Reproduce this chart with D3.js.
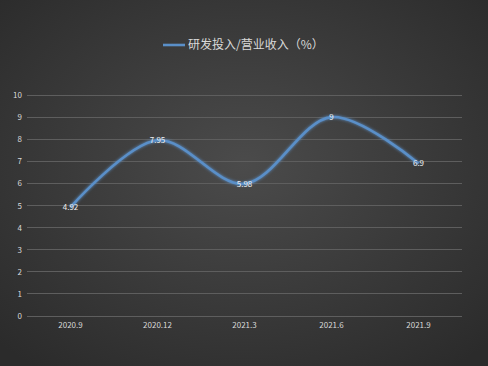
<!DOCTYPE html>
<html><head><meta charset="utf-8">
<script src="https://cdn.jsdelivr.net/npm/d3@7"></script>
<style>body{margin:0;background:#333}svg{display:block}</style>
</head><body>
<svg id="c" width="488" height="366"></svg>
<script>
const categories = ["2020.9","2020.12","2021.3","2021.6","2021.9"];
const values = [4.92, 7.95, 5.98, 9, 6.9];
const valueLabels = ["4.92","7.95","5.98","9","6.9"];
const yTicks = [0,1,2,3,4,5,6,7,8,9,10];
const seriesName = "研发投入/营业收入（%）";

const svg = d3.select("#c");
const W = 488, H = 366;
const defs = svg.append("defs");
const rg = defs.append("radialGradient").attr("id","bg").attr("cx","50%").attr("cy","45%").attr("r","70%");
rg.append("stop").attr("offset","0%").attr("stop-color","#4b4b4b");
rg.append("stop").attr("offset","100%").attr("stop-color","#2b2b2b");
const glow = defs.append("filter").attr("id","glow").attr("x","-20%").attr("y","-20%").attr("width","140%").attr("height","140%");
glow.append("feGaussianBlur").attr("stdDeviation","1.5").attr("result","b");
const m = glow.append("feMerge"); m.append("feMergeNode").attr("in","b"); m.append("feMergeNode").attr("in","SourceGraphic");

svg.append("rect").attr("width",W).attr("height",H).attr("fill","url(#bg)");

const x = d3.scaleBand().domain(categories).range([27,462]);
const y = d3.scaleLinear().domain([0,10]).range([316,95]);

const grid = svg.append("g");
grid.selectAll("line").data(yTicks).join("line")
  .attr("x1",27).attr("x2",462)
  .attr("y1",d=>y(d)).attr("y2",d=>y(d))
  .attr("stroke","#5e5e5e").attr("stroke-width",1).attr("shape-rendering","crispEdges");

const yAxis = svg.append("g").attr("transform","translate(22,0)")
  .call(d3.axisLeft(y).tickValues(yTicks).tickSize(0).tickPadding(0));
yAxis.select(".domain").remove();
yAxis.selectAll("text").attr("fill","#d9d9d9").attr("font-size","8px").attr("font-family","Noto Sans CJK SC, sans-serif");

const xAxis = svg.append("g").attr("transform","translate(0,322)")
  .call(d3.axisBottom(x).tickSize(0).tickPadding(0));
xAxis.select(".domain").remove();
xAxis.selectAll("text").attr("fill","#d9d9d9").attr("font-size","8px").attr("font-family","Noto Sans CJK SC, sans-serif").attr("dy","0.71em");

const pts = categories.map((c,i)=>[x(c)+x.bandwidth()/2, y(values[i])]);
const line = d3.line().curve(d3.curveCatmullRom.alpha(0.5));
svg.append("path").attr("d",line(pts)).attr("fill","none")
  .attr("stroke","#5a8fc8").attr("stroke-width",2.6).attr("filter","url(#glow)");

svg.append("g").selectAll("text").data(pts).join("text")
  .attr("x",d=>d[0]).attr("y",d=>d[1]).attr("dy","0.35em")
  .attr("text-anchor","middle").attr("fill","#f0f0f0").attr("font-size","8px")
  .attr("font-family","Noto Sans CJK SC, sans-serif")
  .text((d,i)=>valueLabels[i]);

const lg = svg.append("g");
lg.append("line").attr("x1",163).attr("x2",185).attr("y1",45).attr("y2",45)
  .attr("stroke","#5a8fc8").attr("stroke-width",2.6);
lg.append("text").attr("x",188).attr("y",45).attr("dy","0.35em")
  .attr("fill","#d9d9d9").attr("font-size","12px").attr("font-family","Noto Sans CJK SC, sans-serif")
  .text(seriesName);
</script>
</body></html>
